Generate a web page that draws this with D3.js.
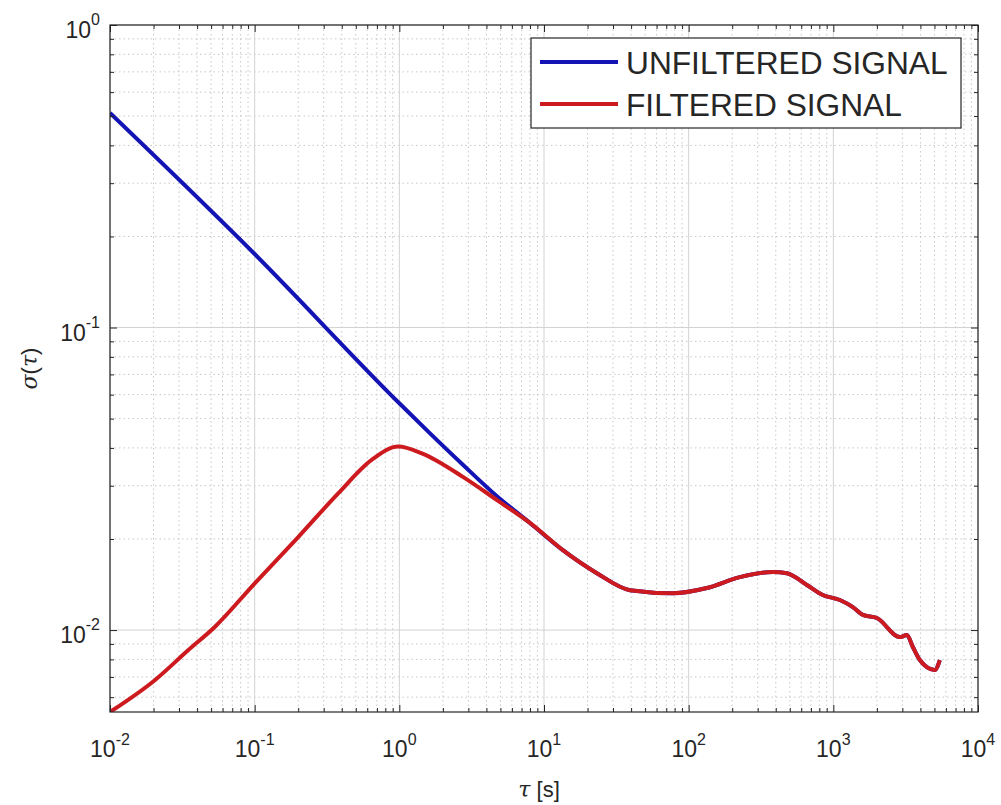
<!DOCTYPE html>
<html>
<head>
<meta charset="utf-8">
<script src="https://cdn.jsdelivr.net/npm/d3@7"></script>
<style>
  html, body { margin: 0; padding: 0; background: #fff; }
  svg { display: block; }
  text { font-family: "Liberation Sans", Arial, sans-serif; fill: #262626; }
</style>
</head>
<body>
<svg id="chart" width="1001" height="805"></svg>
<script>
// ---- data ----
const seriesNames = ["UNFILTERED SIGNAL", "FILTERED SIGNAL"];
const seriesColors = ["#1414b4", "#cc1a1f"];

const tauUnfiltered = [0.01, 0.1, 1.0, 1.63, 2.75, 4.73, 8.0, 13.5, 23.2, 39.3, 77.8, 133.6, 226, 382, 477, 656, 845, 1109, 1365, 1600, 2000, 2884, 3223, 3545, 3963, 5024, 5445];
const sigmaUnfiltered = [0.512, 0.175, 0.0562, 0.0447, 0.0352, 0.0277, 0.0226, 0.01837, 0.01542, 0.01355, 0.01324, 0.01377, 0.01496, 0.01556, 0.01542, 0.01410, 0.01306, 0.01257, 0.01191, 0.01122, 0.01096, 0.00948, 0.00963, 0.00879, 0.00796, 0.00738, 0.00796];

const tauFiltered = [0.01, 0.0205, 0.0348, 0.0532, 0.1005, 0.200, 0.378, 0.644, 0.982, 1.43, 2.75, 4.73, 8.0, 13.5, 23.2, 39.3, 77.8, 133.6, 226, 382, 477, 656, 845, 1109, 1365, 1600, 2000, 2884, 3223, 3545, 3963, 5024, 5445];
const sigmaFiltered = [0.00536, 0.00684, 0.00859, 0.01026, 0.0143, 0.0203, 0.0283, 0.0365, 0.0404, 0.0384, 0.0321, 0.0269, 0.0226, 0.01837, 0.01542, 0.01355, 0.01324, 0.01377, 0.01496, 0.01556, 0.01542, 0.01410, 0.01306, 0.01257, 0.01191, 0.01122, 0.01096, 0.00948, 0.00963, 0.00879, 0.00796, 0.00738, 0.00796];

const xDomain = [0.01, 10000];
const yDomain = [0.00536, 1];
const xMajorTicks = [0.01, 0.1, 1, 10, 100, 1000, 10000];
const xTickExponents = ["-2", "-1", "0", "1", "2", "3", "4"];
const yMajorTicks = [0.01, 0.1, 1];
const yTickExponents = ["-2", "-1", "0"];

// ---- layout ----
const L = 110, R = 978, T = 25, B = 712;
const svg = d3.select("#chart");

const x = d3.scaleLog().domain(xDomain).range([L, R]);
const y = d3.scaleLog().domain(yDomain).range([B, T]);

const isMajor = v => Math.abs(Math.log10(v) - Math.round(Math.log10(v))) < 1e-9;
const xMinor = x.ticks().filter(v => !isMajor(v));
const yMinor = y.ticks().filter(v => !isMajor(v));

svg.append("rect").attr("x", L).attr("y", T).attr("width", R - L).attr("height", B - T).attr("fill", "#fff");

// minor grid
const grid = svg.append("g");
grid.selectAll(".vminor").data(xMinor).enter().append("line")
  .attr("x1", d => x(d)).attr("x2", d => x(d)).attr("y1", T).attr("y2", B)
  .attr("stroke", "#c8c8c8").attr("stroke-width", 1).attr("stroke-dasharray", "1.5,3");
grid.selectAll(".hminor").data(yMinor).enter().append("line")
  .attr("y1", d => y(d)).attr("y2", d => y(d)).attr("x1", L).attr("x2", R)
  .attr("stroke", "#c8c8c8").attr("stroke-width", 1).attr("stroke-dasharray", "1.5,3");
// major grid
grid.selectAll(".vmajor").data(xMajorTicks).enter().append("line")
  .attr("x1", d => x(d)).attr("x2", d => x(d)).attr("y1", T).attr("y2", B)
  .attr("stroke", "#d2d2d2").attr("stroke-width", 1);
grid.selectAll(".hmajor").data(yMajorTicks).enter().append("line")
  .attr("y1", d => y(d)).attr("y2", d => y(d)).attr("x1", L).attr("x2", R)
  .attr("stroke", "#d2d2d2").attr("stroke-width", 1);

// lines
svg.append("clipPath").attr("id", "clip").append("rect")
  .attr("x", L).attr("y", T).attr("width", R - L).attr("height", B - T);
const line = d3.line().x(d => x(d[0])).y(d => y(d[1])).curve(d3.curveMonotoneX);
const unf = tauUnfiltered.map((t, i) => [t, sigmaUnfiltered[i]]);
const fil = tauFiltered.map((t, i) => [t, sigmaFiltered[i]]);
const plot = svg.append("g").attr("clip-path", "url(#clip)");
plot.append("path").datum(unf).attr("d", line).attr("fill", "none")
  .attr("stroke", seriesColors[0]).attr("stroke-width", 4).attr("stroke-linejoin", "round");
plot.append("path").datum(fil).attr("d", line).attr("fill", "none")
  .attr("stroke", seriesColors[1]).attr("stroke-width", 4).attr("stroke-linejoin", "round");

// axes (ticks inward, box on)
function addAxis(gen, tx, ty, vals, size) {
  const g = svg.append("g").attr("transform", `translate(${tx},${ty})`)
    .call(gen.tickValues(vals).tickSizeInner(size).tickSizeOuter(0).tickFormat(""));
  g.select(".domain").remove();
  g.selectAll(".tick line").attr("stroke", "#262626").attr("stroke-width", 1);
  return g;
}
addAxis(d3.axisBottom(x), 0, B, xMajorTicks, -7);
addAxis(d3.axisBottom(x), 0, B, xMinor, -4);
addAxis(d3.axisTop(x), 0, T, xMajorTicks, -7);
addAxis(d3.axisTop(x), 0, T, xMinor, -4);
addAxis(d3.axisLeft(y), L, 0, yMajorTicks, -7);
addAxis(d3.axisLeft(y), L, 0, yMinor, -4);
addAxis(d3.axisRight(y), R, 0, yMajorTicks, -7);
addAxis(d3.axisRight(y), R, 0, yMinor, -4);
svg.append("rect").attr("x", L).attr("y", T).attr("width", R - L).attr("height", B - T)
  .attr("fill", "none").attr("stroke", "#262626").attr("stroke-width", 1.2);

// tick labels with superscripts
const xl = svg.append("g");
xMajorTicks.forEach((v, i) => {
  const t = xl.append("text").attr("x", x(v)).attr("y", 757).attr("text-anchor", "middle")
    .attr("fill", "#333").style("font-size", "23px");
  t.append("tspan").text("10");
  t.append("tspan").attr("dy", -12).style("font-size", "16px").text(xTickExponents[i]);
});
yMajorTicks.forEach((v, i) => {
  const t = xl.append("text").attr("x", 100).attr("y", y(v) + 13).attr("text-anchor", "end")
    .attr("fill", "#333").style("font-size", "23px");
  t.append("tspan").text("10");
  t.append("tspan").attr("dy", -13).style("font-size", "16px").text(yTickExponents[i]);
});

// axis labels
const xlab = svg.append("text").attr("x", 539).attr("y", 797).attr("text-anchor", "middle")
  .style("font-size", "22px").attr("fill", "#333");
xlab.append("tspan").style("font-family", "DejaVu Serif").style("font-style", "italic").text("τ");
xlab.append("tspan").text(" [s]");

const ylab = svg.append("text").attr("transform", `translate(37,${(T + B) / 2}) rotate(-90)`)
  .attr("text-anchor", "middle").style("font-size", "22px").attr("fill", "#333");
ylab.append("tspan").style("font-family", "DejaVu Serif").style("font-style", "italic").text("σ");
ylab.append("tspan").text("(");
ylab.append("tspan").style("font-family", "DejaVu Serif").style("font-style", "italic").text("τ");
ylab.append("tspan").text(")");

// legend
const lg = svg.append("g");
lg.append("rect").attr("x", 531).attr("y", 38).attr("width", 430).attr("height", 90)
  .attr("fill", "#fff").attr("stroke", "#262626").attr("stroke-width", 1.2);
const legendY = [62, 104];
seriesNames.forEach((name, i) => {
  lg.append("line").attr("x1", 540).attr("x2", 618).attr("y1", legendY[i]).attr("y2", legendY[i])
    .attr("stroke", seriesColors[i]).attr("stroke-width", 4);
  lg.append("text").attr("x", 626).attr("y", legendY[i] + 12).style("font-size", "31.7px")
    .attr("fill", "#111").text(name);
});
</script>
</body>
</html>
